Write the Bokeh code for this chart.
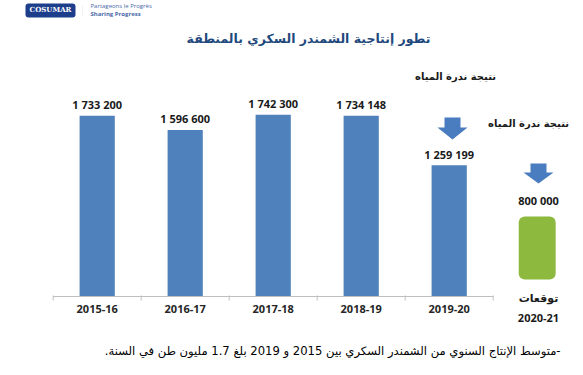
from bokeh.plotting import figure
from bokeh.models import (Range1d, Label, LabelSet, ColumnDataSource,
                          PolyAnnotation, BoxAnnotation)
from bokeh.core.properties import value
from bokeh.embed import file_html
from bokeh.resources import INLINE

# ---------------- data ----------------
seasons = ["2015-16", "2016-17", "2017-18", "2018-19", "2019-20"]
production = [1733200, 1596600, 1742300, 1734148, 1259199]
forecast_season = "2020-21"
forecast_value = 800000
title_text = "تطور إنتاجية الشمندر السكري بالمنطقة"
cause_text = "نتيجة ندرة المياه"
forecast_text = "توقعات"
note_text = "\u200f-متوسط الإنتاج السنوي من الشمندر السكري بين 2015 و 2019 بلغ 1.7 مليون طن في السنة.\u200f"

# ---------------- layout ----------------
W, H = 583, 375
BASE_Y = 296          # page y of the value axis zero line
PX_PER_M = 104.3      # pixels per million tonnes
X0, STEP = 52.7, 88.0  # page x of the first category edge, category width

def sx(px):
    return px

def sy(py):
    return H - py

BLUE = "#4F81BD"
AR_FONT = "DejaVu Sans"
NUM_FONT = "Open Sans"

p = figure(width=W, height=H,
           x_range=Range1d(-X0 / STEP, (W - X0) / STEP),
           y_range=Range1d(-(H - BASE_Y) / PX_PER_M * 1e6, BASE_Y / PX_PER_M * 1e6),
           output_backend="svg", toolbar_location=None,
           min_border=0, title=None, x_axis_location=None, y_axis_location=None)
p.xgrid.visible = False
p.ygrid.visible = False
p.outline_line_color = None
p.background_fill_color = "white"
p.border_fill_color = "white"

xpos = [i + 0.5 for i in range(len(seasons))]
fx = len(seasons) + 0.5

# bars
src = ColumnDataSource(dict(x=xpos, top=production, cat=seasons,
                            lab=[f"{v:,}".replace(",", " ") for v in production]))
p.vbar(x="x", top="top", width=0.4, source=src, fill_color=BLUE, line_color=None)
p.add_layout(LabelSet(x="x", y="top", text="lab", source=src, y_offset=11,
                      text_align="center", text_baseline="middle",
                      text_font=value(NUM_FONT), text_font_style="bold",
                      text_font_size="11px", text_color="#1a1a1a"))

# axis line, boundary ticks, category labels
px_val = 1e6 / PX_PER_M
p.segment(x0=[0], x1=[len(seasons)], y0=[0], y1=[0], line_color="#BFBFBF", line_width=1)
edges = list(range(len(seasons) + 1))
p.segment(x0=edges, x1=edges, y0=[1 * px_val] * len(edges), y1=[-4 * px_val] * len(edges),
          line_color="#BFBFBF", line_width=1)
p.add_layout(LabelSet(x="x", y=0, text="cat", source=src, y_offset=-12,
                      text_align="center", text_baseline="middle",
                      text_font=value(NUM_FONT), text_font_style="bold",
                      text_font_size="11px", text_color="#262626"))

# forecast bar (illustrative)
p.vbar(x=[fx], bottom=[17 * px_val], top=[80 * px_val], width=0.42,
       fill_color="#8DB93F", line_color=None, border_radius=6)

def lab(text, px, py, size="11px", font=NUM_FONT, style="bold", color="#1a1a1a", align="center"):
    p.add_layout(Label(x=sx(px), y=sy(py), x_units="screen", y_units="screen", text=text,
                       text_align=align, text_baseline="middle", text_font=font,
                       text_font_style=style, text_font_size=size, text_color=color))

def arrow(cx, top, head, tip, hw=30, sw=16):
    xs = [cx - sw / 2, cx + sw / 2, cx + sw / 2, cx + hw / 2, cx, cx - hw / 2, cx - sw / 2]
    ys = [top, top, head, head, tip, head, head]
    p.add_layout(PolyAnnotation(xs=[sx(v) for v in xs], ys=[sy(v) for v in ys],
                                xs_units="screen", ys_units="screen",
                                fill_color="#4A7DC0", fill_alpha=1.0, line_color=None))

# title
lab(title_text, 308, 38, size="12.5px", font=AR_FONT, color="#1F497D")

# annotations
lab(cause_text, 455, 76, size="10px", font=AR_FONT)
lab(cause_text, 528, 123, size="10px", font=AR_FONT)
arrow(452, 117, 127, 139)
arrow(538, 163, 172, 183)
lab(f"{forecast_value:,}".replace(",", " "), 538, 200)
lab(forecast_text, 538, 298, size="11px", font=AR_FONT)
lab(forecast_season, 538, 317)
lab(note_text, 560, 350, size="11.6px", font=AR_FONT, style="normal", color="#000000", align="right")

# logo
p.add_layout(BoxAnnotation(left=sx(25), right=sx(75), top=sy(3), bottom=sy(17),
                           left_units="screen", right_units="screen",
                           top_units="screen", bottom_units="screen",
                           fill_color="#1D3E8A", fill_alpha=1.0, line_color=None,
                           border_radius=3))
lab("COSUMAR", 50, 9, size="7px", font="DejaVu Serif", color="white")
p.add_layout(PolyAnnotation(xs=[82, 82], ys=[sy(5), sy(15)], xs_units="screen", ys_units="screen",
                            fill_alpha=0, line_color="#D0D0D0", line_width=1))
lab("Partageons le Progrès", 90, 5, size="6px", font=NUM_FONT, style="normal",
    color="#4A6AA8", align="left")
lab("Sharing Progress", 90, 13, size="6px", font=NUM_FONT, style="bold",
    color="#4A6AA8", align="left")

open("out.html", "w").write(file_html(p, INLINE))
